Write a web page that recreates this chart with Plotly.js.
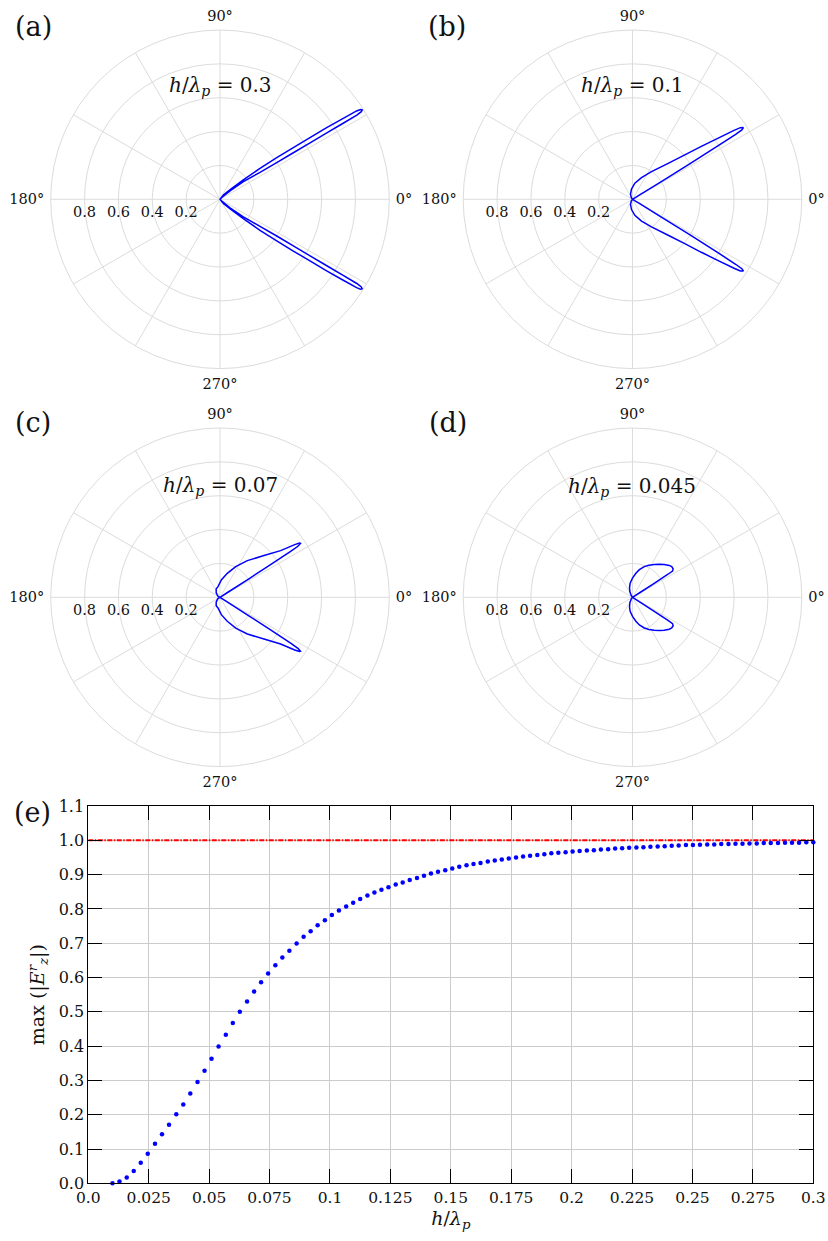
<!DOCTYPE html>
<html>
<head>
<meta charset="utf-8">
<script src="https://cdn.plot.ly/plotly-3.0.1.min.js"></script>
<style>html,body{margin:0;padding:0;background:#fff;}#chart{width:828px;height:1241px;}</style>
</head>
<body>
<div id="chart"></div>
<script>
// ---------- Data ----------
// Polar radiation patterns (theta in degrees, r = normalized |E_z|)
const thetaA = [0, 45, 40, 37.0, 34.0, 32.9, 32.4, 32.1, 31.9, 31.7, 31.6, 31.8, 32.2, 32.6, 32.9, 33.3, 33.9, 34.4, 35.2, 36.3, 37.8, 39.7, 43, 52, 90,
  -52, -43, -39.7, -37.8, -36.3, -35.2, -34.4, -33.9, -33.3, -32.9, -32.6, -32.2, -31.8, -31.6, -31.7, -31.9, -32.1, -32.4, -32.9, -34.0, -37.0, -40, -45, 0];
const rA = [0, 0.02, 0.08, 0.173, 0.285, 0.399, 0.513, 0.628, 0.743, 0.855, 0.949, 0.982, 0.993, 0.985, 0.961, 0.871, 0.759, 0.644, 0.530, 0.416, 0.299, 0.179, 0.09, 0.032, 0,
  0.032, 0.09, 0.179, 0.299, 0.416, 0.530, 0.644, 0.759, 0.871, 0.961, 0.985, 0.993, 0.982, 0.949, 0.855, 0.743, 0.628, 0.513, 0.399, 0.285, 0.173, 0.08, 0.02, 0];
const thetaB = [0, 31.5, 31.6, 31.8, 32.0, 32.2, 32.4, 32.9, 33.6, 34.2, 35.6, 37.6, 40.3, 45.2, 55.5, 67.5, 81.7, 95.5, 111.8, 125, 180,
  -125, -111.8, -95.5, -81.7, -67.5, -55.5, -45.2, -40.3, -37.6, -35.6, -34.2, -33.6, -32.9, -32.4, -32.2, -32.0, -31.8, -31.6, -31.5, 0];
const rB = [0, 0.05, 0.2, 0.4, 0.6, 0.72, 0.765, 0.780, 0.765, 0.725, 0.619, 0.513, 0.405, 0.299, 0.198, 0.139, 0.096, 0.061, 0.032, 0.012, 0,
  0.012, 0.032, 0.061, 0.096, 0.139, 0.198, 0.299, 0.405, 0.513, 0.619, 0.725, 0.765, 0.780, 0.765, 0.72, 0.6, 0.4, 0.2, 0.05, 0];
const thetaC = [0, 32.5, 32.7, 32.8, 33.0, 33.2, 33.8, 34.3, 35.2, 37.6, 43.5, 53.3, 62.9, 73.1, 85.6, 100.6, 114, 130, 150, 180,
  -150, -130, -114, -100.6, -85.6, -73.1, -62.9, -53.3, -43.5, -37.6, -35.2, -34.3, -33.8, -33.2, -33.0, -32.8, -32.7, -32.5, 0];
const rC = [0, 0.05, 0.2, 0.35, 0.5, 0.55, 0.572, 0.568, 0.54, 0.452, 0.358, 0.270, 0.204, 0.148, 0.103, 0.064, 0.055, 0.035, 0.015, 0,
  0.015, 0.035, 0.055, 0.064, 0.103, 0.148, 0.204, 0.270, 0.358, 0.452, 0.54, 0.568, 0.572, 0.55, 0.5, 0.35, 0.2, 0.05, 0];
const thetaD = [0, 32.5, 32.8, 33.0, 33.3, 35, 38, 41, 46, 51, 56.5, 63, 69, 76, 82, 90, 99.5, 107, 115, 127, 180,
  -127, -115, -107, -99.5, -90, -82, -76, -69, -63, -56.5, -51, -46, -41, -38, -35, -33.3, -33.0, -32.8, -32.5, 0];
const rD = [0, 0.05, 0.15, 0.25, 0.283, 0.293, 0.294, 0.287, 0.270, 0.252, 0.233, 0.213, 0.194, 0.168, 0.143, 0.113, 0.084, 0.06, 0.037, 0.012, 0,
  0.012, 0.037, 0.06, 0.084, 0.113, 0.143, 0.168, 0.194, 0.213, 0.233, 0.252, 0.270, 0.287, 0.294, 0.293, 0.283, 0.25, 0.15, 0.05, 0];
const panelRatios = ["0.3", "0.1", "0.07", "0.045"];

// Panel (e): max(|E_z^r|) versus h/lambda_p
const hRatio = [0.0100, 0.0129, 0.0159, 0.0188, 0.0217, 0.0246, 0.0276, 0.0305, 0.0334, 0.0364,
  0.0393, 0.0422, 0.0452, 0.0481, 0.0510, 0.0539, 0.0569, 0.0598, 0.0627, 0.0657,
  0.0686, 0.0715, 0.0744, 0.0774, 0.0803, 0.0832, 0.0862, 0.0891, 0.0920, 0.0949,
  0.0979, 0.1008, 0.1037, 0.1067, 0.1096, 0.1125, 0.1155, 0.1184, 0.1213, 0.1242,
  0.1272, 0.1301, 0.1330, 0.1360, 0.1389, 0.1418, 0.1447, 0.1477, 0.1506, 0.1535,
  0.1565, 0.1594, 0.1623, 0.1653, 0.1682, 0.1711, 0.1740, 0.1770, 0.1799, 0.1828,
  0.1858, 0.1887, 0.1916, 0.1945, 0.1975, 0.2004, 0.2033, 0.2063, 0.2092, 0.2121,
  0.2151, 0.2180, 0.2209, 0.2238, 0.2268, 0.2297, 0.2326, 0.2356, 0.2385, 0.2414,
  0.2443, 0.2473, 0.2502, 0.2531, 0.2561, 0.2590, 0.2619, 0.2649, 0.2678, 0.2707,
  0.2736, 0.2766, 0.2795, 0.2824, 0.2854, 0.2883, 0.2912, 0.2941, 0.2971, 0.3000];
const maxEz = [0.000, 0.005, 0.017, 0.036, 0.060, 0.086, 0.115, 0.143, 0.171, 0.201,
  0.230, 0.262, 0.295, 0.328, 0.363, 0.399, 0.433, 0.467, 0.500, 0.530,
  0.559, 0.586, 0.612, 0.636, 0.658, 0.678, 0.699, 0.719, 0.735, 0.752,
  0.767, 0.782, 0.795, 0.807, 0.818, 0.829, 0.839, 0.848, 0.856, 0.863,
  0.871, 0.877, 0.884, 0.890, 0.897, 0.903, 0.908, 0.913, 0.918, 0.923,
  0.927, 0.931, 0.934, 0.938, 0.941, 0.944, 0.947, 0.950, 0.953, 0.955,
  0.957, 0.959, 0.962, 0.964, 0.965, 0.967, 0.969, 0.970, 0.971, 0.973,
  0.974, 0.976, 0.977, 0.978, 0.979, 0.980, 0.981, 0.982, 0.983, 0.984,
  0.985, 0.986, 0.986, 0.987, 0.988, 0.988, 0.989, 0.989, 0.990, 0.990,
  0.991, 0.991, 0.992, 0.992, 0.992, 0.993, 0.993, 0.993, 0.994, 0.994];
const refX = [0, 0.3];
const refY = [1, 1];

// Tick positions and labels
const rGridVals = [0.2, 0.4, 0.6, 0.8];
const rTickText = ["0.2", "0.4", "0.6", "0.8"];
const angGridVals = [0, 30, 60, 90, 120, 150, 180, 210, 240, 270, 300, 330];
const angLabelVals = [0, 90, 180, 270];
const angLabelText = ["0°", "90°", "180°", "270°"];
const xTickVals = [0, 0.025, 0.05, 0.075, 0.1, 0.125, 0.15, 0.175, 0.2, 0.225, 0.25, 0.275, 0.3];
const xTickText = ["0.0", "0.025", "0.05", "0.075", "0.1", "0.125", "0.15", "0.175", "0.2", "0.225", "0.25", "0.275", "0.3"];

// ---------- Layout ----------
const W = 828, H = 1241;
const FONT = "DejaVu Serif";
const GRID = "#dcdcdc";
const TXT = "#111111";
function px(x) { return x / W; }
function py(y) { return 1 - y / H; }
function dom(cx, cy, R) { return { x: [px(cx - R), px(cx + R)], y: [py(cy + R), py(cy - R)] }; }
// grid-only polar (underneath, carries the curve)
function polarGrid(cx, cy, R) {
  return {
    domain: dom(cx, cy, R), bgcolor: "white",
    radialaxis: { range: [0, 1], tickvals: rGridVals, showticklabels: false, ticks: "",
      showline: false, gridcolor: GRID, gridwidth: 1 },
    angularaxis: { tickvals: angGridVals, showticklabels: false, ticks: "",
      direction: "counterclockwise", rotation: 0,
      showline: true, linecolor: GRID, linewidth: 1, gridcolor: GRID, gridwidth: 1 }
  };
}
// label-only polar (transparent overlay)
function polarLabels(cx, cy, R) {
  return {
    domain: dom(cx, cy, R), bgcolor: "rgba(0,0,0,0)",
    radialaxis: { range: [0, 1], angle: 180, side: "counterclockwise", tickangle: 180,
      tickvals: rGridVals, ticktext: rTickText, ticks: "", showline: false, showgrid: false,
      tickfont: { family: FONT, size: 14.5, color: TXT } },
    angularaxis: { tickvals: angLabelVals, ticktext: angLabelText,
      ticks: "outside", ticklen: 3, tickcolor: "rgba(0,0,0,0)",
      direction: "counterclockwise", rotation: 0, showline: false, showgrid: false,
      tickfont: { family: FONT, size: 14.5, color: TXT } }
  };
}
const R = 169.3;
const centers = [[220, 199.3], [632.5, 199.3], [220, 597.3], [632.5, 597.3]];
const polarData = [[thetaA, rA], [thetaB, rB], [thetaC, rC], [thetaD, rD]];

const traces = [];
const layout = {
  width: W, height: H, margin: { l: 0, r: 0, t: 0, b: 0 },
  paper_bgcolor: "white", plot_bgcolor: "white", showlegend: false,
  font: { family: FONT, size: 15, color: TXT },
  xaxis: {
    domain: [px(88.3), px(813.3)], anchor: "y",
    range: [0, 0.3], tickvals: xTickVals, ticktext: xTickText,
    ticks: "inside", ticklen: 14, tickcolor: "#000", tickwidth: 1,
    showline: true, linecolor: "#000", linewidth: 1, mirror: "ticks",
    showgrid: true, gridcolor: "#cccccc", gridwidth: 1, zeroline: false,
    tickfont: { family: FONT, size: 15.5, color: TXT },
    title: { text: "<i>h</i>/<i>λ</i><sub><i>p</i></sub>", font: { family: FONT, size: 19, color: TXT }, standoff: 4 }
  },
  yaxis: {
    domain: [py(1183.3), py(806)], anchor: "x",
    range: [0, 1.1], dtick: 0.1, tick0: 0, tickformat: ".1f",
    ticks: "inside", ticklen: 14, tickcolor: "#000", tickwidth: 1,
    showline: true, linecolor: "#000", linewidth: 1, mirror: "ticks",
    showgrid: true, gridcolor: "#cccccc", gridwidth: 1, zeroline: false,
    tickfont: { family: FONT, size: 16, color: TXT },
    title: { text: "max (|<i>E</i><sup><i>r</i></sup><sub><i>z</i></sub>|)", font: { family: FONT, size: 19, color: TXT }, standoff: 8 }
  },
  annotations: []
};
polarData.forEach((d, i) => {
  const gName = i === 0 ? "polar" : "polar" + (i + 1);
  const lName = "polar" + (i + 5);
  layout[gName] = polarGrid(centers[i][0], centers[i][1], R);
  layout[lName] = polarLabels(centers[i][0], centers[i][1], R);
  traces.push({ type: "scatterpolar", mode: "lines", theta: d[0], r: d[1],
    subplot: gName, line: { color: "#0000ff", width: 1.5 }, hoverinfo: "skip" });
});
// empty traces so that the label overlays are created
for (let i = 5; i <= 8; i++) {
  traces.push({ type: "scatterpolar", mode: "lines", theta: [], r: [], subplot: "polar" + i, hoverinfo: "skip" });
}
traces.push({ type: "scatter", mode: "lines", x: refX, y: refY, xaxis: "x", yaxis: "y",
  line: { color: "#ff0000", width: 2, dash: "5px,1.5px,1.5px,1.5px" }, hoverinfo: "skip" });
traces.push({ type: "scatter", mode: "markers", x: hRatio, y: maxEz, xaxis: "x", yaxis: "y",
  marker: { color: "#0000ff", size: 4.5 }, cliponaxis: false, hoverinfo: "skip" });

const panelLabels = [["(a)", 33, 27], ["(b)", 447, 27], ["(c)", 33, 422], ["(d)", 448, 422], ["(e)", 32, 813]];
panelLabels.forEach(p => {
  layout.annotations.push({ text: p[0], x: px(p[1]), y: py(p[2]), xref: "paper", yref: "paper",
    xanchor: "center", yanchor: "middle", showarrow: false, font: { family: FONT, size: 27, color: TXT } });
});
const ratioPos = [[220, 86], [632, 86], [220, 486], [632, 487]];
panelRatios.forEach((v, i) => {
  layout.annotations.push({ text: "<i>h</i>/<i>λ</i><sub><i>p</i></sub> = " + v,
    x: px(ratioPos[i][0]), y: py(ratioPos[i][1]), xref: "paper", yref: "paper",
    xanchor: "center", yanchor: "middle", showarrow: false, font: { family: FONT, size: 20, color: TXT } });
});
Plotly.newPlot("chart", traces, layout, { staticPlot: true, displayModeBar: false });
</script>
</body>
</html>
